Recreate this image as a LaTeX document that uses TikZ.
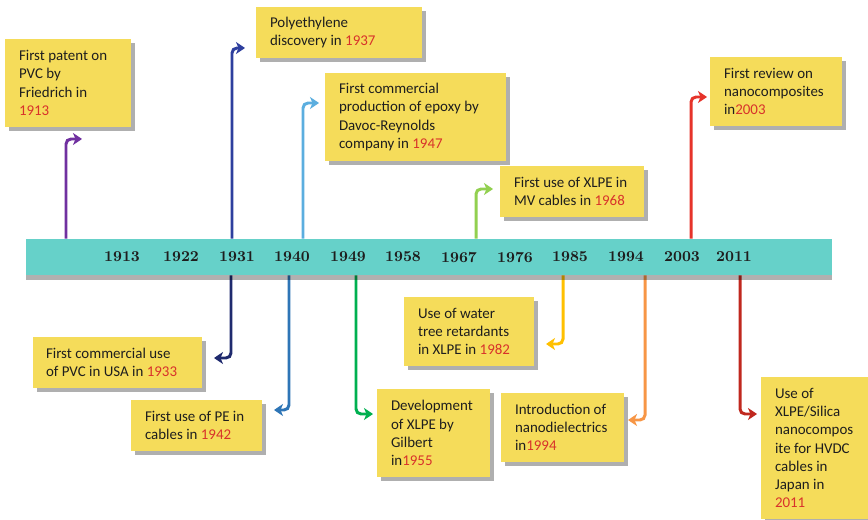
\documentclass[tikz,border=0pt]{standalone}
\usepackage{fontspec}
\newfontfamily\boxfont{Carlito}
\usetikzlibrary{arrows.meta}
\usetikzlibrary{shadows}

\definecolor{barcyan}{HTML}{66D1C9}
\definecolor{boxyellow}{HTML}{F5DC5A}
\definecolor{shadowgray}{HTML}{AFAFAF}
\definecolor{yearred}{HTML}{D8322B}
\definecolor{inkdark}{HTML}{1E1E1E}
\definecolor{cpvc}{HTML}{7030A0}
\definecolor{cpoly}{HTML}{2E3F9E}
\definecolor{cepoxy}{HTML}{5BAEDF}
\definecolor{cmv}{HTML}{92D050}
\definecolor{creview}{HTML}{E6332A}
\definecolor{cusa}{HTML}{1F2A6E}
\definecolor{cpe}{HTML}{2E75B6}
\definecolor{cgilbert}{HTML}{00B050}
\definecolor{cwater}{HTML}{FFC000}
\definecolor{cnano}{HTML}{F79646}
\definecolor{chvdc}{HTML}{C0281E}

\newcommand{\redyear}[1]{\textcolor{yearred}{#1}}

\tikzset{
  evbox/.style={fill=boxyellow, drop shadow={shadow xshift=0.08cm, shadow yshift=-0.08cm, fill=shadowgray, opacity=1}},
  evtext/.style={anchor=west, align=left, inner sep=0pt, text=inkdark, font=\boxfont\fontsize{8.5}{10.4}\selectfont},
  yearlab/.style={font=\fontsize{8.6}{10}\selectfont\bfseries, text=inkdark},
  conn/.style={line width=1.7pt, rounded corners=0.1cm, -{Stealth[length=0.18cm, width=0.24cm, inset=0.05cm]}},
}

\begin{document}
\begin{tikzpicture}[x=0.02cm, y=-0.02cm]
        \useasboundingbox (0,0) rectangle (868,520);
        % timeline bar and years
        \node[fill=barcyan, minimum width=16.12cm, minimum height=0.72cm, inner sep=0pt] (bar) at (429,257) {};
        \foreach \yr/\x in {1913/122, 1922/181, 1931/237, 1940/292, 1949/348, 1958/403, 1967/459, 1976/515, 1985/570, 1994/626, 2003/682, 2011/734} {
            \node[yearlab] (y\yr) at (\x,257) {\yr};
        }
        % events above the bar
        \node[evbox, minimum width=2.52cm, minimum height=1.76cm] (b1) at (68,83) {};
        \node[evtext] (b1t) at ([xshift=0.28cm]b1.west) {First patent on\\PVC by\\Friedrich in\\\redyear{1913}};
        \node[evbox, minimum width=3.32cm, minimum height=1.02cm] (b2) at (339,32.5) {};
        \node[evtext] (b2t) at ([xshift=0.28cm]b2.west) {Polyethylene\\discovery in \redyear{1937}};
        \node[evbox, minimum width=3.62cm, minimum height=1.76cm] (b3) at (415.5,117) {};
        \node[evtext] (b3t) at ([xshift=0.28cm]b3.west) {First commercial\\production of epoxy by\\Davoc-Reynolds\\company in \redyear{1947}};
        \node[evbox, minimum width=2.88cm, minimum height=1.02cm] (b4) at (572,191.5) {};
        \node[evtext] (b4t) at ([xshift=0.28cm]b4.west) {First use of XLPE in\\MV cables in \redyear{1968}};
        \node[evbox, minimum width=2.64cm, minimum height=1.38cm] (b5) at (776,91.5) {};
        \node[evtext] (b5t) at ([xshift=0.28cm]b5.west) {First review on\\nanocomposites\\in\redyear{2003}};
        % events below the bar
        \node[evbox, minimum width=3.38cm, minimum height=1.02cm] (b6) at (117.5,362.5) {};
        \node[evtext] (b6t) at ([xshift=0.26cm]b6.west) {First commercial use\\of PVC in USA in \redyear{1933}};
        \node[evbox, minimum width=2.62cm, minimum height=1.02cm] (b7) at (196.5,425.5) {};
        \node[evtext] (b7t) at ([xshift=0.28cm]b7.west) {First use of PE in\\cables in \redyear{1942}};
        \node[evbox, minimum width=2.26cm, minimum height=1.76cm] (b8) at (433.5,433) {};
        \node[evtext] (b8t) at ([xshift=0.28cm]b8.west) {Development\\of XLPE by\\Gilbert\\in\redyear{1955}};
        \node[evbox, minimum width=2.60cm, minimum height=1.38cm] (b9) at (469,331.5) {};
        \node[evtext] (b9t) at ([xshift=0.28cm]b9.west) {Use of water\\tree retardants\\in XLPE in \redyear{1982}};
        \node[evbox, minimum width=2.46cm, minimum height=1.38cm] (b10) at (562.5,427.5) {};
        \node[evtext] (b10t) at ([xshift=0.28cm]b10.west) {Introduction of\\nanodielectrics\\in\redyear{1994}};
        \node[evbox, minimum width=2.22cm, minimum height=2.84cm] (b11) at (816.5,448) {};
        \node[evtext] (b11t) at ([xshift=0.28cm]b11.west) {Use of\\XLPE/Silica\\nanocompos\\ite for HVDC\\cables in\\Japan in\\\redyear{2011}};
        % connectors
        \foreach \i/\sx/\tx/\ty/\c in {1/66/82/139/cpvc, 2/232/245/48/cpoly, 3/303/319/103/cepoxy, 4/476/493/189/cmv, 5/691/707/97/creview} {
            \coordinate (s\i) at (\sx,0);
            \coordinate (t\i) at (\tx,\ty);
            \draw[conn, \c] (s\i |- bar.north) |- (t\i);
        }
        \foreach \i/\sx/\tx/\ty/\c in {6/231/214/358/cusa, 7/289/274/410/cpe, 8/356/373/414/cgilbert, 9/563/546/344/cwater, 10/645/628/420/cnano, 11/740/757/414/chvdc} {
            \coordinate (s\i) at (\sx,0);
            \coordinate (t\i) at (\tx,\ty);
            \draw[conn, \c] (s\i |- bar.south) |- (t\i);
        }
        \fill[black, opacity=0.31] (bar.south west) rectangle ([shift={(0,5)}]bar.south east);
\end{tikzpicture}
\end{document}
